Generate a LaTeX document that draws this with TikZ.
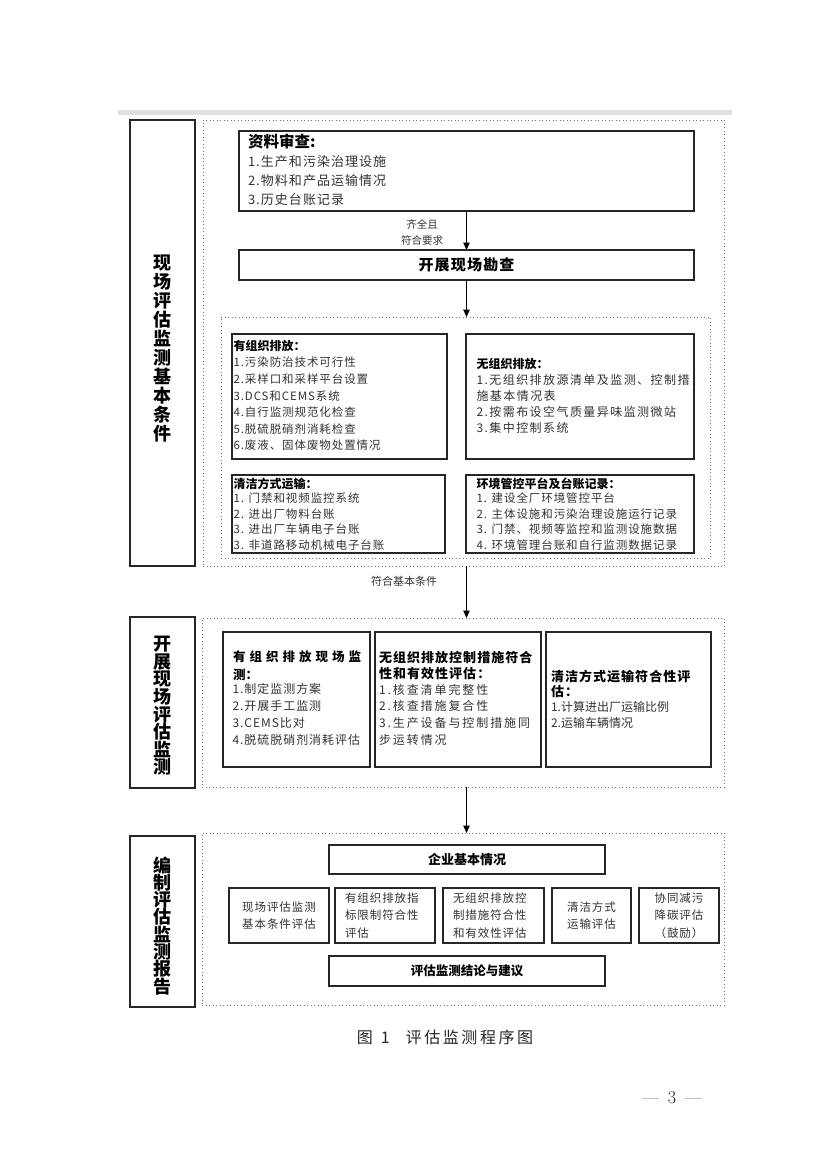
\documentclass[tikz,border=0pt]{standalone}
\usepackage{fontspec}
\usetikzlibrary{arrows.meta}
\newfontfamily\cjk{Noto Sans CJK SC}
\newfontfamily\cjka[LetterSpace=8]{Noto Sans CJK SC}
\newfontfamily\cjkc[LetterSpace=12]{Noto Sans CJK SC}
\newfontfamily\cjkb[LetterSpace=16]{Noto Sans CJK SC}
\newcommand\mybox[6]{%
  \pgfmathsetmacro\bw{#4-#2}\pgfmathsetmacro\bh{#5-#3}%
  \pgfmathsetmacro\bcx{(#2+#4)/2}\pgfmathsetmacro\bcy{(#3+#5)/2}%
  \node[#6, minimum width=\bw pt, minimum height=\bh pt] (#1) at (\bcx,\bcy) {};}
\begin{document}
\begin{tikzpicture}[x=1pt,y=-1pt,
  box/.style={draw=black!85, line width=1.1pt, inner sep=0pt, outer sep=0pt, rectangle},
  dotbox/.style={draw=black!55, line width=0.9pt, dash pattern=on 0.9pt off 2.6pt, inner sep=0pt, outer sep=0pt, rectangle},
  arr/.style={draw=black, line width=1pt, -{Triangle[length=7.5pt,width=6.5pt]}},
  txt/.style={inner sep=0pt, outer sep=0pt, align=left, anchor=north west, text=black!80},
  ttl/.style={inner sep=0pt, outer sep=0pt, align=left, anchor=north west, text=black},
  ctr/.style={inner sep=0pt, outer sep=0pt, align=center, text=black!80},
  vlab/.style={inner sep=0pt, outer sep=0pt, align=center, text=black}]
\useasboundingbox (0,0) rectangle (826,1169);
\fill[white] (0,0) rectangle (826,1169);
% faint top band
\fill[black!12] (118,110) rectangle (732,115);

% ---------- section 1 ----------
\mybox{L1}{130}{120}{195}{566}{box}
\mybox{O1}{203}{120}{724}{566}{dotbox}
\mybox{zl}{239}{131}{694}{211}{box}
\mybox{kz}{239}{250}{694}{280}{box}
\mybox{I1}{221}{317}{710}{558}{dotbox}
\mybox{b11}{232}{334}{447}{459}{box}
\mybox{b12}{466}{334}{694}{459}{box}
\mybox{b21}{232}{475}{445}{553}{box}
\mybox{b22}{466}{475}{694}{553}{box}

\node[vlab, font={\cjk\bfseries\fontsize{18}{19}\selectfont}] (L1t) at (162,349)
  {现\\场\\评\\估\\监\\测\\基\\本\\条\\件};

\node[ttl, font={\cjk\bfseries\fontsize{15.5}{19}\selectfont}] (zlt) at (248,134.5) {资料审查:};
\node[txt, font={\cjka\fontsize{13}{19}\selectfont}] (zll) at (248,155.5)
  {1.生产和污染治理设施\\2.物料和产品运输情况\\3.历史台账记录};
\node[inner sep=0pt, text=black, font={\cjka\bfseries\fontsize{15}{18}\selectfont}] (kzt) at (kz.center) {开展现场勘查};

\node[ctr, font={\cjk\fontsize{10.5}{16}\selectfont}] (lab1) at (422,232) {齐全且\\符合要求};

\draw[arr] (zl.south) -- (kz.north);
\draw[arr] (kz.south) -- (I1.north -| kz.south);

\node[ttl, font={\cjk\bfseries\fontsize{12}{16}\selectfont}] (b11t) at (233.5,340) {有组织排放：};
\node[txt, font={\cjka\fontsize{11.5}{16.6}\selectfont}] (b11l) at (233.5,357.2)
  {1.污染防治技术可行性\\2.采样口和采样平台设置\\3.DCS和CEMS系统\\4.自行监测规范化检查\\5.脱硫脱硝剂消耗检查\\6.废液、固体废物处置情况};

\node[ttl, font={\cjk\bfseries\fontsize{12}{16}\selectfont}] (b12t) at (476.5,358) {无组织排放：};
\node[txt, font={\cjkc\fontsize{12}{16}\selectfont}] (b12l) at (476.5,374)
  {1.无组织排放源清单及监测、控制措\\施基本情况表\\2.按需布设空气质量异味监测微站\\3.集中控制系统};

\node[ttl, font={\cjk\bfseries\fontsize{12}{16}\selectfont}] (b21t) at (233.5,478) {清洁方式运输：};
\node[txt, font={\cjka\fontsize{11.5}{15.4}\selectfont}] (b21l) at (233.5,493.2)
  {1. 门禁和视频监控系统\\2. 进出厂物料台账\\3. 进出厂车辆电子台账\\3. 非道路移动机械电子台账};

\node[ttl, font={\cjk\bfseries\fontsize{12}{16}\selectfont}] (b22t) at (476.5,478) {环境管控平台及台账记录：};
\node[txt, font={\cjka\fontsize{11.5}{15.4}\selectfont}] (b22l) at (476.5,493.2)
  {1. 建设全厂环境管控平台\\2. 主体设施和污染治理设施运行记录\\3. 门禁、视频等监控和监测设施数据\\4. 环境管理台账和自行监测数据记录};

% ---------- section 2 ----------
\mybox{L2}{130}{617}{195}{788}{box}
\mybox{O2}{202}{618}{724}{787}{dotbox}
\mybox{r1}{223}{632}{370}{767}{box}
\mybox{r2}{375}{632}{541}{767}{box}
\mybox{r3}{546}{632}{711}{767}{box}

\node[ctr, font={\cjk\fontsize{11}{14}\selectfont}] (lab2) at (404,581) {符合基本条件};
\draw[arr] (O1.south -| kz.south) -- (O2.north -| kz.south);

\node[vlab, font={\cjk\bfseries\fontsize{18}{17.6}\selectfont}] (L2t) at (162,706)
  {开\\展\\现\\场\\评\\估\\监\\测};

\node[ttl, font={\cjk\bfseries\fontsize{12.5}{17.5}\selectfont}] (r1t) at (233,650.8)
  {\hbox to 128pt{有\hfill 组\hfill 织\hfill 排\hfill 放\hfill 现\hfill 场\hfill 监}\\测：};
\node[txt, font={\cjka\fontsize{12}{17}\selectfont}] (r1l) at (232.5,683)
  {1.制定监测方案\\2.开展手工监测\\3.CEMS比对\\4.脱硫脱硝剂消耗评估};

\node[ttl, font={\cjka\bfseries\fontsize{13}{16}\selectfont}] (r2t) at (379,651.5)
  {无组织排放控制措施符合\\性和有效性评估：};
\node[txt, font={\cjkb\fontsize{12}{16.8}\selectfont}] (r2l) at (379,684)
  {1.核查清单完整性\\2.核查措施复合性\\3.生产设备与控制措施同\\步运转情况};

\node[ttl, font={\cjka\bfseries\fontsize{13}{15}\selectfont}] (r3t) at (551,670.5)
  {清洁方式运输符合性评\\估：};
\node[txt, font={\cjk\fontsize{12}{16.5}\selectfont}] (r3l) at (551,701)
  {1.计算进出厂运输比例\\2.运输车辆情况};

% ---------- section 3 ----------
\mybox{L3}{130}{836}{195}{1007}{box}
\mybox{O3}{202}{833}{724}{1005}{dotbox}
\mybox{qy}{329}{845}{605}{874}{box}
\mybox{s1}{229}{888}{329}{943}{box}
\mybox{s2}{335}{888}{435}{943}{box}
\mybox{s3}{443}{888}{544}{943}{box}
\mybox{s4}{552}{888}{631}{943}{box}
\mybox{s5}{639}{888}{719}{943}{box}
\mybox{jl}{329}{956}{605}{986}{box}

\draw[arr] (O2.south -| kz.south) -- (O3.north -| kz.south);

\node[vlab, font={\cjk\bfseries\fontsize{18}{17.2}\selectfont}] (L3t) at (162,926)
  {编\\制\\评\\估\\监\\测\\报\\告};

\node[inner sep=0pt, text=black, font={\cjk\bfseries\fontsize{13}{16}\selectfont}] (qyt) at (qy.center) {企业基本情况};
\node[inner sep=0pt, text=black, font={\cjk\bfseries\fontsize{12.5}{16}\selectfont}] (jlt) at (jl.center) {评估监测结论与建议};

\node[ctr, font={\cjka\fontsize{11.5}{16.5}\selectfont}] (s1t) at (s1.center) {现场评估监测\\基本条件评估};
\node[txt, font={\cjka\fontsize{11.5}{17.3}\selectfont}] (s2t) at (345,893) {有组织排放指\\标限制符合性\\评估};
\node[txt, font={\cjka\fontsize{11.5}{17.3}\selectfont}] (s3t) at (453,893) {无组织排放控\\制措施符合性\\和有效性评估};
\node[ctr, font={\cjka\fontsize{11.5}{16.5}\selectfont}] (s4t) at (s4.center) {清洁方式\\运输评估};
\node[ctr, font={\cjka\fontsize{11.5}{17.3}\selectfont}] (s5t) at (s5.center) {协同减污\\降碳评估\\（鼓励）};

% ---------- caption and page number ----------
\node[inner sep=0pt, text=black!85, font={\cjkb\fontsize{16}{18}\selectfont}] (cap) at (445,1037) {图\enspace 1\quad 评估监测程序图};
\node[inner sep=0pt, text=black!85, font={\fontsize{18}{20}\selectfont}] (pg) at (672,1098) {\textemdash\enspace 3\enspace\textemdash};
\end{tikzpicture}
\end{document}
